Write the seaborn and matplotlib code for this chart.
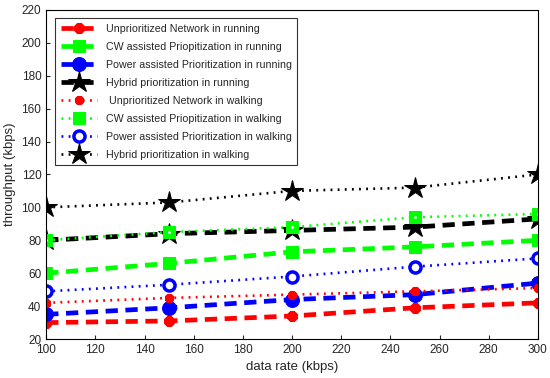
import pandas as pd
import seaborn as sns
import matplotlib
matplotlib.use('Agg')
import matplotlib.pyplot as plt

rate = [100, 150, 200, 250, 300]

unprio_run = [30, 31, 34, 39, 42]
cw_run = [60, 66, 73, 76, 80]
power_run = [35, 39, 44, 47, 54]
hybrid_run = [80, 84, 86, 88, 93]
unprio_walk = [42, 45, 47, 49, 51]
cw_walk = [80, 85, 88, 94, 96]
power_walk = [49, 53, 58, 64, 69]
hybrid_walk = [100, 103, 110, 112, 120]

labels = [
    'Unprioritized Network in running',
    'CW assisted Priopitization in running',
    'Power assisted Prioritization in running',
    'Hybrid prioritization in running',
    ' Unprioritized Network in walking',
    'CW assisted Priopitization in walking',
    'Power assisted Prioritization in walking',
    'Hybrid prioritization in walking',
]
series = [unprio_run, cw_run, power_run, hybrid_run,
          unprio_walk, cw_walk, power_walk, hybrid_walk]


def build_frame():
    rows = []
    for name, vals in zip(labels, series):
        for x, y in zip(rate, vals):
            rows.append({'rate': x, 'throughput': y, 'series': name})
    return pd.DataFrame(rows)


def main():
    data = build_frame()
    sns.set_style('ticks')
    plt.rcParams['font.family'] = ['Liberation Sans', 'DejaVu Sans']

    fig = plt.figure(figsize=(5.5, 3.78), dpi=100)
    ax = fig.add_axes([0.084, 0.103, 0.894, 0.871])

    colors = ['red', '#00ff00', 'blue', 'black'] * 2
    # marker, size, fill style
    marks = [('8', 8, True), ('s', 9, True), ('o', 10, True), ('*', 16, True),
             ('8', 7, True), ('s', 8, 'dot'), ('o', 8, False), ('*', 16, True)]

    for i, name in enumerate(labels):
        sub = data[data['series'] == name]
        m, ms, filled = marks[i]
        running = i < 4
        kw = dict(marker=m, markersize=ms, color=colors[i],
                  markeredgecolor=colors[i])
        if filled is False:
            kw['markerfacecolor'] = 'white'
            kw['markeredgewidth'] = 2.5
        elif filled == 'dot':
            kw['markerfacecolor'] = colors[i]
        if running:
            kw['linestyle'] = (0, (2.6, 1.6))
            kw['linewidth'] = 3.4
        else:
            kw['linestyle'] = (0, (0.7, 2.0))
            kw['linewidth'] = 1.9
        sns.lineplot(data=sub, x='rate', y='throughput', ax=ax, label=name,
                     **kw)
        if filled == 'dot':
            ax.plot(sub['rate'], sub['throughput'], linestyle='none',
                    marker='.', markersize=2, color='white')

    ax.set_xlim(100, 300)
    ax.set_ylim(20, 220)
    ax.set_xticks(range(100, 301, 20))
    ax.set_yticks(range(20, 221, 20))
    ax.tick_params(labelsize=8.5, direction='in', length=3)
    ax.set_xlabel('data rate (kbps)', fontsize=9.5)
    ax.set_ylabel('throughput (kbps)', fontsize=9.5)
    for s in ax.spines.values():
        s.set_linewidth(0.8)
        s.set_color('black')

    leg = ax.legend(loc='upper left', fontsize=7.7, frameon=True,
                    fancybox=False, edgecolor='black', handlelength=3.4,
                    borderpad=0.5, labelspacing=0.75,
                    bbox_to_anchor=(0.008, 0.99))
    leg.get_frame().set_linewidth(0.8)

    fig.savefig('out.png', dpi=100)


if __name__ == '__main__':
    main()
